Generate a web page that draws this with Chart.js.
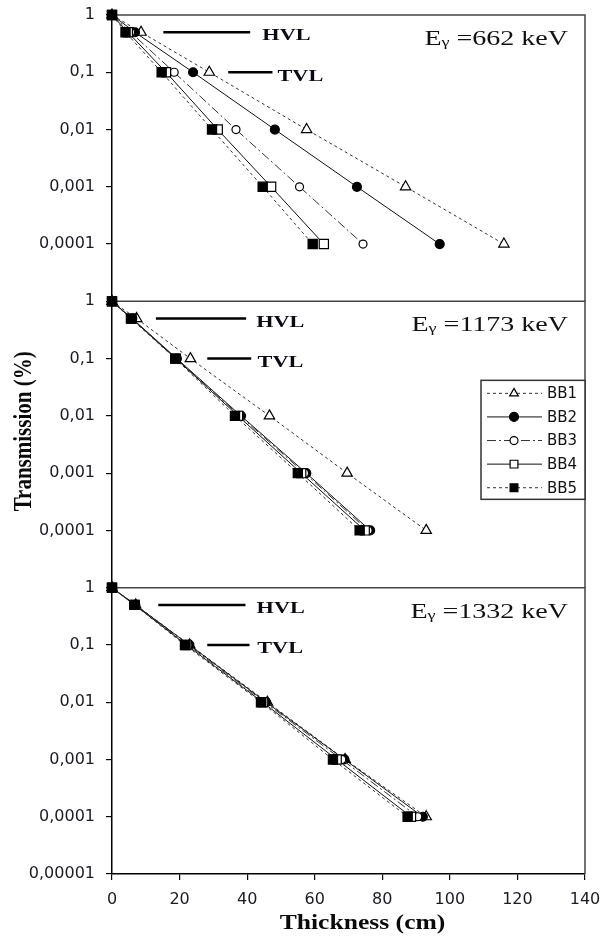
<!DOCTYPE html>
<html>
<head>
<meta charset="utf-8">
<script src="https://cdn.jsdelivr.net/npm/chart.js@4"></script>
<style>
    html, body { margin: 0; padding: 0; background: #fff; }
    #wrap { width: 614px; height: 938px; }
</style>
</head>
<body>
<div id="wrap"><canvas id="transChart" width="614" height="938"></canvas></div>
<script>
    // Transmission levels shared by every curve
    const transmission = [1, 0.5, 0.1, 0.01, 0.001, 0.0001];
    const seriesNames = ['BB1', 'BB2', 'BB3', 'BB4', 'BB5'];
    const energies = [662, 1173, 1332];
    const xTicks = [0, 20, 40, 60, 80, 100, 120, 140];
    const yTicksUpper = [1, 0.1, 0.01, 0.001, 0.0001];
    const yTicksLower = [1, 0.1, 0.01, 0.001, 0.0001, 0.00001];

    // Thickness (cm) reaching each transmission level
    // E = 662 keV
    const bb1_662 = [0, 8.6, 28.8, 57.6, 86.9, 116.0];
    const bb2_662 = [0, 6.8, 24.0, 48.2, 72.5, 97.0];
    const bb3_662 = [0, 5.5, 18.4, 36.7, 55.5, 74.3];
    const bb4_662 = [0, 4.7, 16.0, 31.3, 47.1, 62.7];
    const bb5_662 = [0, 4.0, 14.7, 29.6, 44.6, 59.4];
    // E = 1173 keV
    const bb1_1173 = [0, 7.3, 23.2, 46.6, 69.6, 93.0];
    const bb2_1173 = [0, 6.0, 19.2, 38.2, 57.5, 76.4];
    const bb3_1173 = [0, 5.9, 19.0, 37.8, 57.0, 75.8];
    const bb4_1173 = [0, 5.8, 18.9, 37.3, 56.0, 74.8];
    const bb5_1173 = [0, 5.6, 18.7, 36.4, 55.0, 73.3];
    // E = 1332 keV
    const bb1_1332 = [0, 7.0, 23.0, 46.0, 69.0, 93.0];
    const bb2_1332 = [0, 6.9, 22.9, 45.6, 68.8, 92.0];
    const bb3_1332 = [0, 6.8, 22.5, 45.2, 68.0, 90.5];
    const bb4_1332 = [0, 6.7, 22.0, 44.6, 66.5, 88.5];
    const bb5_1332 = [0, 6.6, 21.6, 44.1, 65.4, 87.5];

    // Panels, top to bottom
    const panels = [
        { id: 'y662',  energy: energies[0], curves: [bb1_662, bb2_662, bb3_662, bb4_662, bb5_662], ticks: yTicksUpper, weight: 3,
          hvl: [15.2, 40.9], tvl: [34.4, 47.5], hvlText: 44.5, tvlText: 49.0 },
        { id: 'y1173', energy: energies[1], curves: [bb1_1173, bb2_1173, bb3_1173, bb4_1173, bb5_1173], ticks: yTicksUpper, weight: 2,
          hvl: [13.0, 39.7], tvl: [28.2, 41.2], hvlText: 42.7, tvlText: 43.1 },
        { id: 'y1332', energy: energies[2], curves: [bb1_1332, bb2_1332, bb3_1332, bb4_1332, bb5_1332], ticks: yTicksLower, weight: 1,
          hvl: [13.7, 39.5], tvl: [28.2, 40.7], hvlText: 42.8, tvlText: 43.0 }
    ];

    // Line / marker styles per series
    const seriesStyle = [
        { dash: [3, 3],        point: 'triangle', fill: '#fff', radius: 6,   color: '#333' },
        { dash: [],            point: 'circle',   fill: '#000', radius: 4.5, color: '#111' },
        { dash: [9, 3, 2, 3],  point: 'circle',   fill: '#fff', radius: 4,   color: '#333' },
        { dash: [],            point: 'rect',     fill: '#fff', radius: 6.5, color: '#111' },
        { dash: [3, 3],        point: 'rect',     fill: '#000', radius: 6.5, color: '#333' }
    ];

    const sansFamily = '"DejaVu Sans", "Liberation Sans", Arial, sans-serif';
    const serifFamily = '"Liberation Serif", "Times New Roman", serif';
    const tickFont = { family: sansFamily, size: 16 };
    const tickColor = '#1b1b24';

    // Datasets
    const datasets = [];
    panels.forEach(function(p) {
        p.curves.forEach(function(xs, i) {
            const st = seriesStyle[i];
            datasets.push({
                label: seriesNames[i],
                yAxisID: p.id,
                data: xs.map(function(x, k) { return { x: x, y: transmission[k] }; }),
                borderColor: st.color,
                borderWidth: 1,
                borderDash: st.dash,
                pointStyle: st.point,
                pointRadius: st.radius,
                pointBackgroundColor: st.fill,
                pointBorderColor: '#000',
                pointBorderWidth: 1.2,
                tension: 0,
                fill: false,
                clip: false,
                order: 4 - i
            });
        });
    });

    // Scales: shared x, one stacked log y per panel
    const scales = {
        x: {
            type: 'linear',
            min: 0,
            max: 140,
            afterBuildTicks: function(scale) {
                scale.ticks = xTicks.map(function(v) { return { value: v }; });
            },
            afterFit: function(scale) { scale.height = 64; },
            grid: { drawOnChartArea: false, drawTicks: true, tickLength: 6, color: '#000', lineWidth: 1.2 },
            border: { color: '#000', width: 1.5 },
            ticks: { font: tickFont, color: tickColor, padding: 10, maxRotation: 0 }
        }
    };
    panels.forEach(function(p) {
        scales[p.id] = {
            type: 'logarithmic',
            position: 'left',
            stack: 'panels',
            stackWeight: 1,
            weight: p.weight,
            min: 0.00001,
            max: 1,
            afterBuildTicks: function(scale) {
                scale.ticks = p.ticks.map(function(v) { return { value: v }; });
            },
            afterFit: function(scale) {
                scale.width = 112;
                scale.paddingTop = 0;
                scale.paddingBottom = 0;
            },
            grid: { drawOnChartArea: false, drawTicks: true, tickLength: 6, color: '#000', lineWidth: 1.2 },
            border: { color: '#000', width: 1.5 },
            ticks: {
                font: tickFont,
                color: tickColor,
                padding: 11,
                autoSkip: false,
                callback: function(value) { return String(value).replace('.', ','); }
            }
        };
    });

    function stretchText(ctx, text, x, y, sx, sy) {
        ctx.save();
        ctx.translate(x, y);
        ctx.scale(sx, sy || 1);
        ctx.fillText(text, 0, 0);
        ctx.restore();
    }

    function drawMarker(ctx, st, x, y) {
        ctx.save();
        ctx.setLineDash([]);
        ctx.fillStyle = st.fill;
        ctx.strokeStyle = '#000';
        ctx.lineWidth = 1.2;
        ctx.beginPath();
        if (st.point === 'circle') {
            ctx.arc(x, y, st.radius, 0, Math.PI * 2);
        } else if (st.point === 'rect') {
            const h = st.radius * Math.SQRT1_2;
            ctx.rect(x - h, y - h, h * 2, h * 2);
        } else {
            const r = st.radius;
            ctx.moveTo(x, y - r);
            ctx.lineTo(x + r * 0.866, y + r * 0.5);
            ctx.lineTo(x - r * 0.866, y + r * 0.5);
            ctx.closePath();
        }
        ctx.fill();
        ctx.stroke();
        ctx.restore();
    }

    // Panel frames, axis titles, HVL/TVL guides, energy labels and legend
    const panelDecor = {
        id: 'panelDecor',
        beforeDatasetsDraw: function(chart) {
            const ctx = chart.ctx;
            const area = chart.chartArea;
            ctx.save();
            ctx.strokeStyle = '#444';
            ctx.lineWidth = 1.5;
            panels.forEach(function(p) {
                const s = chart.scales[p.id];
                ctx.beginPath();
                ctx.moveTo(area.left, s.top);
                ctx.lineTo(area.right, s.top);
                ctx.lineTo(area.right, s.bottom);
                ctx.stroke();
            });

            // Axis titles
            ctx.fillStyle = '#0a0a0a';
            ctx.textAlign = 'center';
            ctx.textBaseline = 'middle';
            ctx.font = 'bold 20px ' + serifFamily;
            stretchText(ctx, 'Thickness (cm)', (area.left + area.right) / 2 + 14, area.bottom + 50, 1.28);
            const mid = chart.scales.y1173;
            ctx.save();
            ctx.translate(area.left - 87, mid.top + 130);
            ctx.rotate(-Math.PI / 2);
            ctx.font = 'bold 21px ' + serifFamily;
            stretchText(ctx, 'Transmission (%)', 0, 0, 1, 1.15);
            ctx.restore();
            ctx.restore();
        },
        afterDatasetsDraw: function(chart) {
            const ctx = chart.ctx;
            const area = chart.chartArea;
            const xs = chart.scales.x;
            ctx.save();
            panels.forEach(function(p) {
                const s = chart.scales[p.id];
                const yH = s.getPixelForValue(0.5);
                const yT = s.getPixelForValue(0.1);

                // Guide lines
                ctx.strokeStyle = '#000';
                ctx.lineWidth = 2.5;
                ctx.beginPath();
                ctx.moveTo(xs.getPixelForValue(p.hvl[0]), yH);
                ctx.lineTo(xs.getPixelForValue(p.hvl[1]), yH);
                ctx.moveTo(xs.getPixelForValue(p.tvl[0]), yT);
                ctx.lineTo(xs.getPixelForValue(p.tvl[1]), yT);
                ctx.stroke();

                ctx.fillStyle = '#0a0a14';
                ctx.font = 'bold 17.5px ' + serifFamily;
                ctx.textAlign = 'left';
                ctx.textBaseline = 'alphabetic';
                stretchText(ctx, 'HVL', xs.getPixelForValue(p.hvlText), yH + 8, 1.27);
                stretchText(ctx, 'TVL', xs.getPixelForValue(p.tvlText), yT + 8.5, 1.27);

                // Energy label: E(gamma) = ... keV
                const sx = 1.4;
                const base = s.top + 30;
                const bigFont = '20px ' + serifFamily;
                const subFont = '13px ' + serifFamily;
                const rest = ' =' + p.energy + ' keV';
                ctx.font = bigFont;
                const wE = ctx.measureText('E').width;
                const wR = ctx.measureText(rest).width;
                ctx.font = subFont;
                const wG = ctx.measureText('\u03b3').width;
                const total = (wE + wG + wR) * sx;
                const x0 = area.right - 17 - total;
                ctx.fillStyle = '#111';
                ctx.font = bigFont;
                stretchText(ctx, 'E', x0, base, sx);
                ctx.font = subFont;
                stretchText(ctx, '\u03b3', x0 + wE * sx, base + 1, sx);
                ctx.font = bigFont;
                stretchText(ctx, rest, x0 + (wE + wG) * sx, base, sx);
            });

            // Legend inside the middle panel
            const mid = chart.scales.y1173;
            const bw = 104, bh = 119;
            const bx = area.right - bw;
            const by = mid.top + 79;
            ctx.fillStyle = '#fff';
            ctx.fillRect(bx, by, bw, bh);
            ctx.strokeStyle = '#333';
            ctx.lineWidth = 1.5;
            ctx.strokeRect(bx, by, bw, bh);
            ctx.font = '15px ' + sansFamily;
            ctx.textBaseline = 'middle';
            ctx.textAlign = 'left';
            seriesNames.forEach(function(name, i) {
                const st = seriesStyle[i];
                const ry = by + 13 + i * 23.6;
                ctx.strokeStyle = st.color;
                ctx.lineWidth = 1;
                ctx.setLineDash(st.dash);
                ctx.beginPath();
                ctx.moveTo(bx + 6, ry);
                ctx.lineTo(bx + 61, ry);
                ctx.stroke();
                ctx.setLineDash([]);
                drawMarker(ctx, { point: st.point, fill: st.fill, radius: st.point === 'rect' ? 5.5 : Math.min(st.radius, 5) }, bx + 33, ry);
                ctx.fillStyle = '#111';
                ctx.fillText(name, bx + 66, ry + 1);
            });
            ctx.restore();
        }
    };

    const ctx = document.getElementById('transChart').getContext('2d');
    const transChart = new Chart(ctx, {
        type: 'line',
        data: { datasets: datasets },
        options: {
            responsive: false,
            animation: false,
            events: [],
            layout: { padding: { top: 15, right: 29, bottom: 0, left: 0 } },
            plugins: {
                legend: { display: false },
                tooltip: { enabled: false }
            },
            scales: scales
        },
        plugins: [panelDecor]
    });
</script>
</body>
</html>
